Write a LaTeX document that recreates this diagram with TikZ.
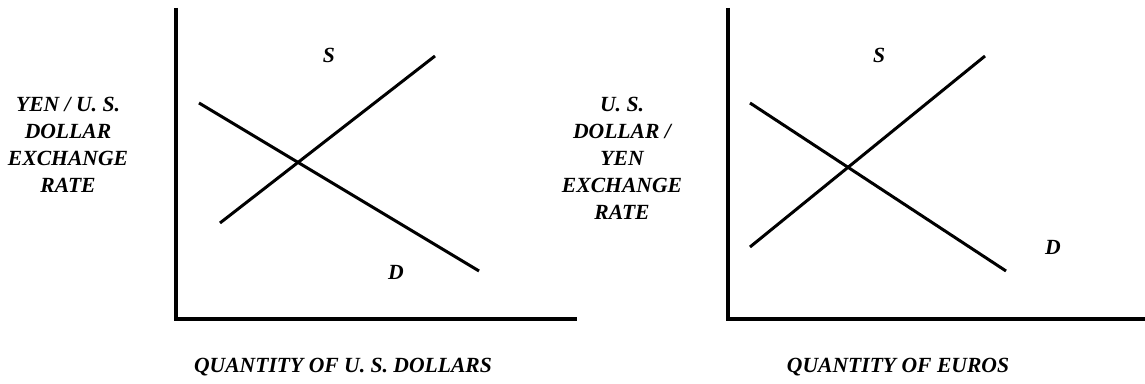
\documentclass[tikz,border=0pt]{standalone}
\usepackage{fontspec}
\setmainfont{Liberation Serif}
\usetikzlibrary{positioning}
\tikzset{
  axis/.style={line width=2pt,black},
  curve/.style={line width=1.7pt,black},
  lbl/.style={font=\bfseries\itshape\fontsize{12.3}{15.4}\selectfont,align=center,inner sep=0pt}
}
% axes: x of the vertical axis, x where the horizontal axis ends
\newcommand{\axq}[3]{%
  \coordinate (#1top) at (#2,376);
  \coordinate (#1end) at (#3,65);
  \draw[axis] (#1top) |- (#1end);}

\begin{document}
\begin{tikzpicture}[x=0.02cm,y=0.02cm]
\useasboundingbox (0,0) rectangle (1145,384);
% left market
\axq{l}{176}{577}
\coordinate (lS1) at (220,161);
\coordinate (lS2) at (435,328);
\coordinate (lD1) at (199,281);
\coordinate (lD2) at (479,113);
\draw[curve] (lS1) -- (lS2);
\draw[curve] (lD1) -- (lD2);
\node[lbl] (lSl) at (329,329) {S};
\node[lbl] (lDl) at (396,112) {D};
\node[lbl] (lyl) at (68,239) {YEN / U. S.\\DOLLAR\\EXCHANGE\\RATE};
\node[lbl] (lxl) at (343,17) {QUANTITY OF U. S. DOLLARS};
% right market
\axq{r}{728}{1145}
\coordinate (rS1) at (750,137);
\coordinate (rS2) at (985,328);
\coordinate (rD1) at (750,281);
\coordinate (rD2) at (1006,113);
\draw[curve] (rS1) -- (rS2);
\draw[curve] (rD1) -- (rD2);
\node[lbl] (rSl) at (879,329) {S};
\node[lbl] (rDl) at (1053,137) {D};
\node[lbl] (ryl) at (622,226) {U. S.\\DOLLAR /\\YEN\\EXCHANGE\\RATE};
\node[lbl] (rxl) at (898,17) {QUANTITY OF EUROS};
\end{tikzpicture}
\end{document}
